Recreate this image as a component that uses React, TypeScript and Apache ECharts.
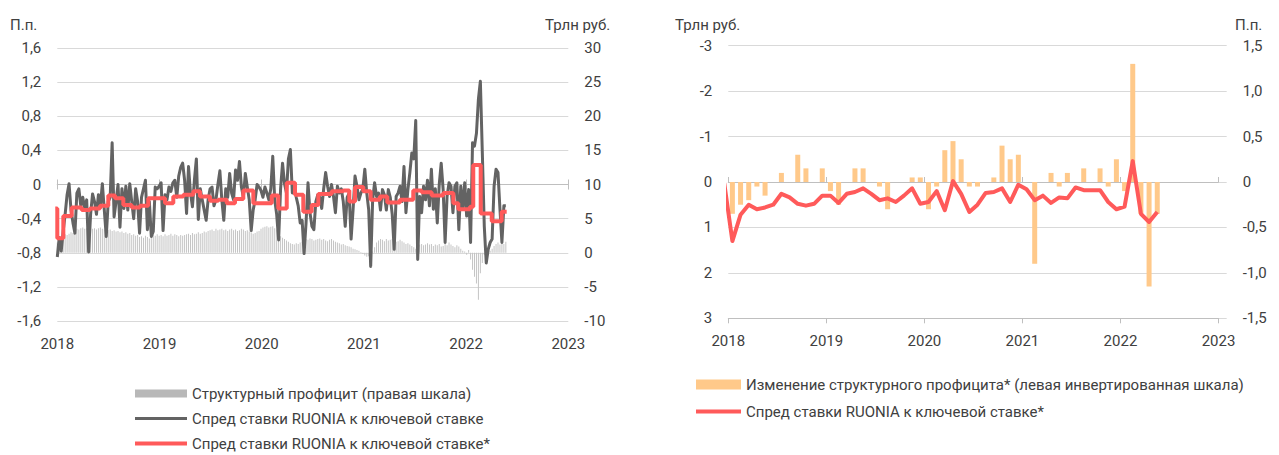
import React, { useEffect, useRef } from 'react';
import * as echarts from 'echarts';

// ---------------- LEFT CHART DATA ----------------
// Weekly structural liquidity surplus, trillion RUB (right scale)
const surplus2018 = [1.5, 2.0, 2.3, 2.5, 2.7, 2.6, 2.8, 3.0, 2.9, 3.2, 3.5, 3.4, 3.6, 3.7, 3.5, 3.6, 3.8, 3.7, 3.5, 3.6, 3.4, 3.6, 3.7, 3.5, 3.4, 3.5, 3.3, 3.4, 3.2, 3.3, 3.1, 3.2, 3.0, 3.1, 2.9, 3.0, 2.8, 2.9, 2.6, 2.7, 2.5, 2.6, 2.3, 2.4, 2.2, 2.5, 2.3, 2.1, 2.4, 2.6, 2.5, 2.7];
const surplus2019 = [2.5, 2.6, 2.4, 2.7, 2.5, 2.6, 2.8, 2.5, 2.7, 2.6, 2.4, 2.6, 2.5, 2.6, 2.7, 2.8, 2.6, 2.9, 2.7, 2.8, 3.0, 2.8, 2.9, 3.1, 3.0, 3.2, 3.3, 3.4, 3.2, 3.5, 3.3, 3.4, 3.5, 3.3, 3.4, 3.2, 3.4, 3.5, 3.3, 3.4, 3.2, 3.3, 3.5, 3.4, 3.2, 3.3, 3.1, 3.0, 2.8, 2.9, 3.1, 3.2];
const surplus2020 = [3.5, 3.7, 3.8, 3.9, 3.7, 3.8, 3.9, 3.6, 3.4, 2.6, 2.4, 2.2, 2.0, 1.8, 1.6, 1.4, 1.3, 1.2, 1.4, 1.3, 1.5, 1.6, 1.8, 2.0, 1.9, 2.1, 2.0, 1.8, 1.9, 2.0, 2.1, 1.9, 2.0, 1.8, 1.7, 1.9, 2.0, 1.8, 1.6, 1.5, 1.4, 1.2, 1.3, 1.1, 1.0, 0.9, 0.8, 0.6, 0.5, 0.4, 0.3, 0.1];
const surplus2021 = [-0.2, -0.4, -0.6, -0.5, -0.3, 0.2, 0.8, 1.5, 1.8, 2.0, 1.9, 1.7, 2.0, 1.8, 1.9, 2.0, 1.8, 1.6, 1.7, 1.9, 1.7, 1.5, 1.3, 1.4, 1.2, 1.0, 0.8, 0.6, 0.9, 1.2, 1.3, 1.1, 1.2, 1.4, 1.2, 1.3, 1.0, 1.2, 1.1, 1.3, 0.9, 1.0, 1.4, 1.1, 1.5, 1.2, 1.0, 0.8, 1.1, 0.9, 0.6, 0.3];
const surplus2022 = [0.2, -0.3, 0.4, -1.0, -2.5, -3.5, -4.5, -6.9, -3.0, -1.5, -0.3, 0.2, 0.5, 0.3, 0.6, 1.0, 1.3, 1.5, 1.2, 1.4, 1.3, 1.6];

// Weekly RUONIA spread to key rate, p.p. (left scale)
const spread2018 = [-0.85, -0.62, -0.78, -0.55, -0.35, -0.12, 0.01, -0.30, -0.45, -0.57, -0.10, -0.05, -0.25, -0.15, -0.28, -0.18, -0.79, -0.35, -0.11, -0.20, -0.35, -0.12, -0.25, 0.01, -0.30, -0.61, -0.20, -0.15, 0.49, -0.38, -0.20, 0.00, -0.50, -0.05, -0.28, -0.02, -0.30, 0.01, -0.20, -0.40, -0.05, -0.20, -0.57, -0.15, -0.05, 0.05, -0.53, -0.20, -0.61, -0.55, -0.03, -0.05];
const spread2019 = [-0.02, 0.02, -0.54, -0.12, -0.18, -0.03, -0.08, 0.02, 0.05, -0.15, 0.10, 0.20, 0.25, 0.05, -0.34, 0.21, -0.10, -0.26, 0.05, 0.30, -0.41, -0.05, -0.18, -0.30, -0.42, -0.18, -0.05, -0.03, -0.25, -0.18, 0.00, 0.16, -0.18, -0.42, -0.05, -0.15, 0.13, -0.10, -0.18, 0.17, 0.05, 0.27, -0.03, -0.15, 0.13, -0.03, -0.18, -0.54, -0.30, -0.18, 0.00, -0.03];
const spread2020 = [-0.07, -0.15, -0.03, -0.10, -0.18, -0.05, 0.33, -0.18, -0.35, -0.65, -0.05, 0.25, 0.01, -0.10, 0.30, 0.41, -0.10, -0.03, -0.15, -0.25, -0.45, -0.42, -0.81, -0.45, 0.02, -0.33, -0.49, -0.53, -0.20, -0.12, -0.15, -0.28, -0.05, 0.14, -0.02, -0.14, 0.00, -0.14, -0.33, -0.02, -0.10, -0.05, -0.20, -0.49, -0.15, -0.10, -0.64, -0.30, 0.10, -0.02, -0.18, -0.10];
const spread2021 = [-0.05, 0.18, -0.10, -0.30, -0.96, -0.18, 0.02, -0.14, -0.10, -0.30, -0.06, -0.12, -0.30, -0.06, -0.15, -0.35, -0.76, -0.14, -0.10, -0.02, -0.20, 0.21, -0.33, -0.06, 0.14, 0.37, 0.30, 0.75, -0.88, -0.14, -0.33, -0.02, -0.18, 0.05, -0.25, 0.18, -0.29, -0.05, -0.45, 0.00, 0.25, -0.06, -0.68, -0.14, 0.02, -0.02, -0.33, -0.02, 0.02, -0.53, -0.02, -0.29];
const spread2022 = [0.02, -0.37, -0.06, -0.68, 0.49, 0.45, 0.60, 1.00, 1.21, 0.37, -0.49, -0.92, -0.76, -0.68, -0.64, -0.02, 0.18, 0.14, -0.29, -0.68, -0.25, -0.25];

// Averaging periods: start (years since 1 Jan 2018) and average spread, p.p.
const avgPeriodStart = [-0.02, 0, 0.059, 0.141, 0.239, 0.320, 0.418, 0.499, 0.565, 0.646, 0.728, 0.809, 0.890, 1.054, 1.135, 1.233, 1.331, 1.396, 1.494, 1.575, 1.658, 1.739, 1.820, 1.918, 2.098, 2.162, 2.245, 2.326, 2.407, 2.489, 2.554, 2.685, 2.799, 2.857, 2.913, 2.994, 3.066, 3.157, 3.229, 3.353, 3.483, 3.565, 3.663, 3.777, 3.875, 3.924, 4.038, 4.070, 4.143, 4.251, 4.348, 4.397];
const avgPeriodValue = [-0.28, -0.63, -0.37, -0.27, -0.30, -0.28, -0.25, -0.13, -0.16, -0.24, -0.27, -0.25, -0.16, -0.22, -0.14, -0.12, -0.08, -0.14, -0.19, -0.18, -0.22, -0.17, -0.07, -0.22, -0.13, -0.28, 0.02, -0.12, -0.32, -0.24, -0.11, -0.08, -0.07, -0.20, -0.03, -0.08, -0.18, -0.14, -0.21, -0.18, -0.07, -0.09, -0.13, -0.10, -0.22, -0.29, -0.26, 0.23, -0.34, -0.43, -0.32, -0.32];

// ---------------- RIGHT CHART DATA ----------------
// Monthly change in structural surplus, trillion RUB (inverted left scale), Jan 2018 - May 2022
const monthlySurplusChange = [
  0.7, 0.5, 0.4, 0.1, 0.3, 0, -0.2, 0, -0.6, -0.3, 0, -0.3,
  0.2, 0.5, 0, -0.3, -0.3, 0, 0.1, 0.6, 0, 0, -0.1, -0.1,
  0.6, 0.1, -0.7, -0.9, -0.5, 0.1, 0.1, 0, -0.1, -0.8, -0.5, -0.6,
  0, 1.8, 0, -0.2, 0.1, -0.2, 0, -0.3, 0, -0.3, 0.1, -0.5,
  0.2, -2.6, 0.7, 2.3, 0.7,
];
// Monthly RUONIA spread to key rate*, p.p. (right scale)
const spreadDec2017 = -0.01;
const monthlySpread = [
  -0.65, -0.36, -0.25, -0.30, -0.28, -0.25, -0.13, -0.17, -0.24, -0.26, -0.24, -0.15,
  -0.15, -0.23, -0.13, -0.11, -0.07, -0.13, -0.20, -0.18, -0.22, -0.15, -0.07, -0.24,
  -0.22, -0.10, -0.31, 0.01, -0.13, -0.33, -0.25, -0.12, -0.11, -0.07, -0.22, -0.03,
  -0.08, -0.20, -0.15, -0.23, -0.17, -0.18, -0.06, -0.09, -0.09, -0.09, -0.22, -0.30,
  -0.27, 0.23, -0.35, -0.44, -0.33,
];

const yearTicks = [2018, 2019, 2020, 2021, 2022, 2023];

const NAME_SURPLUS = 'Структурный профицит (правая шкала)';
const NAME_SPREAD = 'Спред ставки RUONIA к ключевой ставке';
const NAME_SPREAD_AVG = 'Спред ставки RUONIA к ключевой ставке*';
const NAME_CHANGE = 'Изменение структурного профицита* (левая инвертированная шкала)';

const FONT = 'Roboto, "Noto Sans", Arial, sans-serif';
const TEXT = '#404040';
const GRIDC = '#d9d9d9';
const AXISC = '#bfbfbf';
const RED = '#ff5a5a';
const DARK = '#636363';

const weekX = (w: number) => 2018 + (w * 7) / 365.25;
const monthX = (i: number) => 2018 + (i + 0.5) / 12;

const commaFmt = (v: number) => (v === 0 ? '0' : v.toFixed(1).replace('.', ','));
const yearFmt = (v: number) => (yearTicks.includes(v) ? String(v) : '');

function buildOption() {
  const weeklySurplus = [...surplus2018, ...surplus2019, ...surplus2020, ...surplus2021, ...surplus2022];
  const weeklySpread = [...spread2018, ...spread2019, ...spread2020, ...spread2021, ...spread2022];

  const L = { left: 57.3, top: 48, width: 511, height: 273 };
  const R = { left: 728.3, top: 45.7, width: 498.4, height: 272.6 };
  const Rt = { left: 728.3, top: 45.7, width: 490, height: 272.6 };

  const label = { color: TEXT, fontFamily: FONT, fontSize: 15 };
  const tickX = (gridIndex: number, max: number, position: string) => ({
    type: 'value', gridIndex, min: 2018, max, interval: 1, position,
    axisLine: { show: true, onZero: true, lineStyle: { color: AXISC, width: 1 } },
    axisTick: { show: true, inside: false, length: 5, lineStyle: { color: AXISC } },
    axisLabel: { show: false }, splitLine: { show: false },
  });
  const labelX = (gridIndex: number, max: number) => ({
    type: 'value', gridIndex, min: 2018, max, interval: 1, position: 'bottom',
    axisLine: { show: false, onZero: false }, axisTick: { show: false },
    axisLabel: { ...label, margin: 15, formatter: yearFmt }, splitLine: { show: false },
  });
  const lineIcon = (w: number, h: number) => `path://M0,0H${w}V${h}H0Z`;

  return {
    animation: false,
    backgroundColor: '#ffffff',
    textStyle: { fontFamily: FONT },
    grid: [
      { ...L, containLabel: false },
      { ...L, containLabel: false },
      { ...R, containLabel: false },
      { ...Rt, containLabel: false },
    ],
    xAxis: [
      labelX(0, 2023),
      tickX(0, 2023, 'top'),
      tickX(1, 2023, 'bottom'),
      labelX(2, 2023 + 1 / 12),
      tickX(3, 2023, 'top'),
      tickX(3, 2023, 'bottom'),
    ],
    yAxis: [
      {
        type: 'value', gridIndex: 0, position: 'left', min: -1.6, max: 1.6, interval: 0.4,
        axisLine: { show: false }, axisTick: { show: false },
        axisLabel: { ...label, margin: 16, formatter: commaFmt },
        splitLine: { show: true, lineStyle: { color: GRIDC, width: 1 } },
      },
      {
        type: 'value', gridIndex: 0, position: 'right', min: -10, max: 30, interval: 5,
        axisLine: { show: false }, axisTick: { show: false },
        axisLabel: { ...label, margin: 16 }, splitLine: { show: false },
      },
      { type: 'value', gridIndex: 1, min: -1.6, max: 1.6, show: false },
      {
        type: 'value', gridIndex: 2, position: 'left', min: -3, max: 3, interval: 1, inverse: true,
        axisLine: { show: false }, axisTick: { show: false },
        axisLabel: { ...label, margin: 16 },
        splitLine: { show: true, lineStyle: { color: GRIDC, width: 1 } },
      },
      {
        type: 'value', gridIndex: 2, position: 'right', min: -1.5, max: 1.5, interval: 0.5,
        axisLine: { show: false }, axisTick: { show: false },
        axisLabel: { ...label, margin: 16, formatter: commaFmt }, splitLine: { show: false },
      },
      { type: 'value', gridIndex: 3, min: -3, max: 3, inverse: true, show: false },
    ],
    legend: [
      {
        orient: 'vertical', left: 135, top: 386, padding: 0, itemWidth: 52, itemHeight: 8, itemGap: 10,
        selectedMode: false,
        textStyle: { color: TEXT, fontFamily: FONT, fontSize: 15 },
        data: [
          { name: NAME_SURPLUS, icon: 'rect', itemStyle: { color: '#b8b8b8' } },
          { name: NAME_SPREAD, icon: lineIcon(52, 3), itemStyle: { color: DARK, borderWidth: 0 } },
          { name: NAME_SPREAD_AVG, icon: lineIcon(52, 4), itemStyle: { color: RED, borderWidth: 0 } },
        ],
      },
      {
        orient: 'vertical', left: 696, top: 377, padding: 0, itemWidth: 45, itemHeight: 10, itemGap: 12,
        selectedMode: false,
        textStyle: { color: TEXT, fontFamily: FONT, fontSize: 15 },
        data: [
          { name: NAME_CHANGE, icon: 'rect' },
          { name: NAME_SPREAD_AVG, icon: lineIcon(45, 4), itemStyle: { color: RED, borderWidth: 0 } },
        ],
      },
    ],
    graphic: [
      { type: 'text', x: 10, y: 25, style: { text: 'П.п.', fontSize: 15, fontFamily: FONT, fill: TEXT, verticalAlign: 'middle' } },
      { type: 'text', x: 545, y: 25, style: { text: 'Трлн руб.', fontSize: 15, fontFamily: FONT, fill: TEXT, verticalAlign: 'middle' } },
      { type: 'text', x: 675, y: 25, style: { text: 'Трлн руб.', fontSize: 15, fontFamily: FONT, fill: TEXT, verticalAlign: 'middle' } },
      { type: 'text', x: 1235, y: 25, style: { text: 'П.п.', fontSize: 15, fontFamily: FONT, fill: TEXT, verticalAlign: 'middle' } },
    ],
    series: [
      {
        name: NAME_SURPLUS, type: 'bar', xAxisIndex: 0, yAxisIndex: 1, barWidth: 1,
        itemStyle: { color: '#c4c4c4' },
        data: weeklySurplus.map((v, w) => [weekX(w), v]),
        z: 2,
      },
      {
        name: NAME_SPREAD, type: 'line', xAxisIndex: 0, yAxisIndex: 0, symbol: 'none',
        lineStyle: { color: DARK, width: 3, join: 'round' }, itemStyle: { color: DARK },
        data: weeklySpread.map((v, w) => [weekX(w), v]),
        z: 3,
      },
      {
        name: NAME_SPREAD_AVG, type: 'line', step: 'end', xAxisIndex: 0, yAxisIndex: 0, symbol: 'none',
        lineStyle: { color: RED, width: 4 }, itemStyle: { color: RED },
        data: avgPeriodStart.map((t, i) => [2018 + t, avgPeriodValue[i]]),
        z: 4,
      },
      {
        name: NAME_CHANGE, type: 'bar', xAxisIndex: 3, yAxisIndex: 3, barWidth: 5,
        itemStyle: { color: '#ffc98a' },
        data: monthlySurplusChange.map((v, i) => [monthX(i), v]),
        z: 2,
      },
      {
        name: NAME_SPREAD_AVG, type: 'line', xAxisIndex: 3, yAxisIndex: 4, symbol: 'none',
        lineStyle: { color: RED, width: 4, join: 'round' }, itemStyle: { color: RED },
        data: [[monthX(-1), spreadDec2017], ...monthlySpread.map((v, i) => [monthX(i), v])],
        z: 4,
      },
    ],
  };
}

export default function App() {
  const ref = useRef<HTMLDivElement>(null);
  useEffect(() => {
    if (!ref.current) return;
    const chart = echarts.init(ref.current, null, { renderer: 'svg' });
    chart.setOption(buildOption() as any);
    return () => chart.dispose();
  }, []);
  return (
    <div
      ref={ref}
      style={{ position: 'fixed', left: 0, top: 0, width: 1279, height: 455, background: '#ffffff' }}
    />
  );
}
